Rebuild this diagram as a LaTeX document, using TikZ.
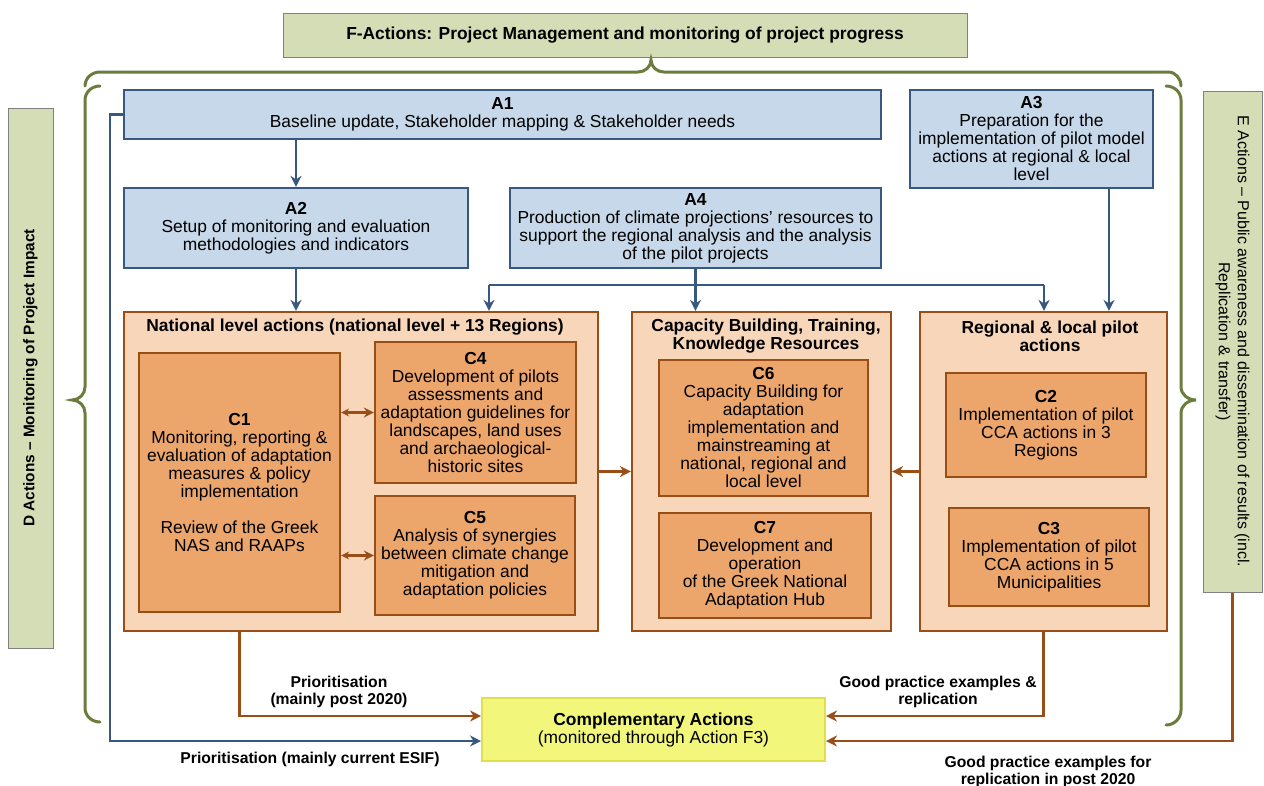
\documentclass[tikz,border=0pt]{standalone}
\usepackage{fontspec}
\setmainfont{Liberation Sans}
\usetikzlibrary{arrows.meta}

\definecolor{olivebg}{HTML}{D5DDB7}
\definecolor{olivebrace}{HTML}{6C7C3C}
\definecolor{ablue}{HTML}{37597F}
\definecolor{abluefill}{HTML}{C6D8E9}
\definecolor{cbrown}{HTML}{9A4E17}
\definecolor{cpeach}{HTML}{F8D6BA}
\definecolor{corange}{HTML}{ECA66C}
\definecolor{cyellow}{HTML}{F2F77C}
\definecolor{cyellowline}{HTML}{E5DE4C}

\newcommand{\bodysz}{\fontsize{17.4}{18}\selectfont}
\newcommand{\notesz}{\fontsize{15.7}{17}\selectfont\bfseries}

\tikzset{
  greenbox/.style={draw=gray, fill=olivebg, line width=1pt, inner sep=0pt, align=center},
  abox/.style={draw=ablue, fill=abluefill, line width=2.2pt, inner sep=0pt, align=center, font=\bodysz},
  group/.style={draw=cbrown, fill=cpeach, line width=2.2pt, inner sep=0pt},
  grouptitle/.style={align=center, inner sep=0pt, font=\bodysz\bfseries},
  cbox/.style={draw=cbrown, fill=corange, line width=2.2pt, inner sep=0pt, align=center, font=\bodysz},
  compbox/.style={draw=cyellowline, fill=cyellow, line width=2pt, inner sep=0pt, align=center, font=\bodysz},
  note/.style={align=center, inner sep=0pt, font=\notesz},
  bracket/.style={draw=olivebrace, line width=3pt, line cap=round},
  blueline/.style={draw=ablue, line width=2.2pt},
  bluearrow/.style={blueline, -{Stealth[length=11pt,width=11pt]}},
  brownarrow/.style={draw=cbrown, line width=2.2pt, -{Stealth[length=11pt,width=11pt]}},
  brownboth/.style={draw=cbrown, line width=2.2pt, {Stealth[length=8pt,width=8pt]}-{Stealth[length=10pt,width=10pt]}}
}

\begin{document}
\begin{tikzpicture}[x=1pt, y=-1pt]
  \fill[white] (0,0) rectangle (1264,785);
  \useasboundingbox (0,0) rectangle (1264,785);

  % side and top action bars
  \node[greenbox, minimum width=684, minimum height=44, font=\bodysz\bfseries] (fbox) at (625,35)
    {F-Actions: Project Management and monitoring of project progress};
  \node[greenbox, rotate=90, minimum width=540, minimum height=45, font=\fontsize{15.4}{17}\selectfont\bfseries] (dbox) at (30.5,378)
    {D Actions – Monitoring of Project Impact};
  \node[greenbox, rotate=-90, minimum width=501, minimum height=59, font=\fontsize{16}{19}\selectfont] (ebox) at (1232.5,341.5)
    {E Actions – Public awareness and dissemination of results (incl.\\Replication \& transfer)};

  % braces
  \draw[bracket] (85,86) to[out=90,in=180] (100,72) -- (638,72) to[out=0,in=-90] (651,60)
    to[out=-90,in=180] (664,72) -- (1168,72) to[out=0,in=90] (1181,86);
  \draw[bracket] (100,86) to[out=180,in=90] (85,100) -- (85,387) to[out=-90,in=0] (72,400)
    to[out=0,in=90] (85,413) -- (85,708) to[out=-90,in=180] (100,722);
  \draw[bracket] (1166,86) to[out=0,in=90] (1181,100) -- (1181,387) to[out=-90,in=180] (1196,400)
    to[out=180,in=90] (1181,413) -- (1181,710) to[out=-90,in=0] (1166,725);

  % A actions
  \node[abox, minimum width=757, minimum height=49] (A1) at (502.5,114.5)
    {\textbf{A1}\\Baseline update, Stakeholder mapping \& Stakeholder needs};
  \node[abox, minimum width=344, minimum height=80] (A2) at (296,228)
    {\textbf{A2}\\Setup of monitoring and evaluation\\methodologies and indicators};
  \node[abox, minimum width=371, minimum height=80] (A4) at (695.5,228)
    {\textbf{A4}\\Production of climate projections’ resources to\\support the regional analysis and the analysis\\of the pilot projects};
  \node[abox, minimum width=243, minimum height=98] (A3) at (1031.5,139)
    {\textbf{A3}\\Preparation for the\\implementation of pilot model\\actions at regional \& local\\level};

  % C groups
  \node[group, minimum width=474, minimum height=319] (natl) at (361,471.5) {};
  \node[group, minimum width=259, minimum height=319] (cap) at (761.5,471.5) {};
  \node[group, minimum width=247, minimum height=319] (reg) at (1043.5,471.5) {};
  \node[grouptitle] (natlT) at (355,327) {National level actions (national level + 13 Regions)};
  \node[grouptitle] (capT) at (766,336.5) {Capacity Building, Training,\\Knowledge Resources};
  \node[grouptitle] (regT) at (1050,336.5) {Regional \& local pilot\\actions};

  \node[cbox, minimum width=201, minimum height=259] (C1) at (239.5,482.5)
    {\textbf{C1}\\Monitoring, reporting \&\\evaluation of adaptation\\measures \& policy\\implementation\\[18pt]Review of the Greek\\NAS and RAAPs};
  \node[cbox, minimum width=201, minimum height=141] (C4) at (475.5,412.5)
    {\textbf{C4}\\Development of pilots\\assessments and\\adaptation guidelines for\\landscapes, land uses\\and archaeological-\\historic sites};
  \node[cbox, minimum width=200, minimum height=119] (C5) at (475,555.5)
    {\textbf{C5}\\Analysis of synergies\\between climate change\\mitigation and\\adaptation policies};
  \node[cbox, minimum width=209, minimum height=136] (C6) at (763.5,428)
    {\textbf{C6}\\Capacity Building for\\adaptation\\implementation and\\mainstreaming at\\national, regional and\\local level};
  \node[cbox, minimum width=212, minimum height=105] (C7) at (765,565.5)
    {\textbf{C7}\\Development and\\operation\\of the Greek National\\Adaptation Hub};
  \node[cbox, minimum width=200, minimum height=104] (C2) at (1046,425)
    {\textbf{C2}\\Implementation of pilot\\CCA actions in 3\\Regions};
  \node[cbox, minimum width=200, minimum height=98] (C3) at (1049,557)
    {\textbf{C3}\\Implementation of pilot\\CCA actions in 5\\Municipalities};

  \node[compbox, minimum width=343, minimum height=63] (comp) at (653.5,729.5)
    {\textbf{Complementary Actions}\\(monitored through Action F3)};

  % blue links
  \coordinate (busL) at (489,285);
  \coordinate (busR) at (1044,285);
  \coordinate (a3out) at (1109,188);
  \coordinate (lowrow) at (110,741);
  \coordinate (highrow) at (239.5,716);
  \draw[bluearrow] (A1.south -| A2) -- (A2.north);
  \draw[bluearrow] (A2.south) -- (A2.south |- natl.north);
  \draw[blueline] (busL) -- (busR);
  \draw[bluearrow] (A4.south) -- (A4.south |- cap.north);
  \draw[bluearrow] (busL) -- (busL |- natl.north);
  \draw[bluearrow] (busR) -- (busR |- reg.north);
  \draw[bluearrow] (a3out) -- (a3out |- reg.north);
  \draw[bluearrow] (A1.west) -| (lowrow) -- (comp.west |- lowrow);

  % brown links
  \draw[brownboth] (C1.east |- C4) -- (C4.west);
  \draw[brownboth] (C1.east |- C5) -- (C5.west);
  \draw[brownarrow] (natl.east) -- (cap.west);
  \draw[brownarrow] (reg.west) -- (cap.east);
  \draw[brownarrow] (natl.south -| C1) |- (comp.west |- highrow);
  \draw[brownarrow] (reg.south) |- (comp.east |- highrow);
  \draw[brownarrow] (ebox.east) |- (comp.east |- lowrow);

  % link labels
  \node[note] (prio1) at (339,691.5) {Prioritisation\\(mainly post 2020)};
  \node[note] (prio2) at (310,759) {Prioritisation (mainly current ESIF)};
  \node[note] (good1) at (938,691.5) {Good practice examples \&\\replication};
  \node[note] (good2) at (1048,771.5) {Good practice examples for\\replication in post 2020};
\end{tikzpicture}
\end{document}
